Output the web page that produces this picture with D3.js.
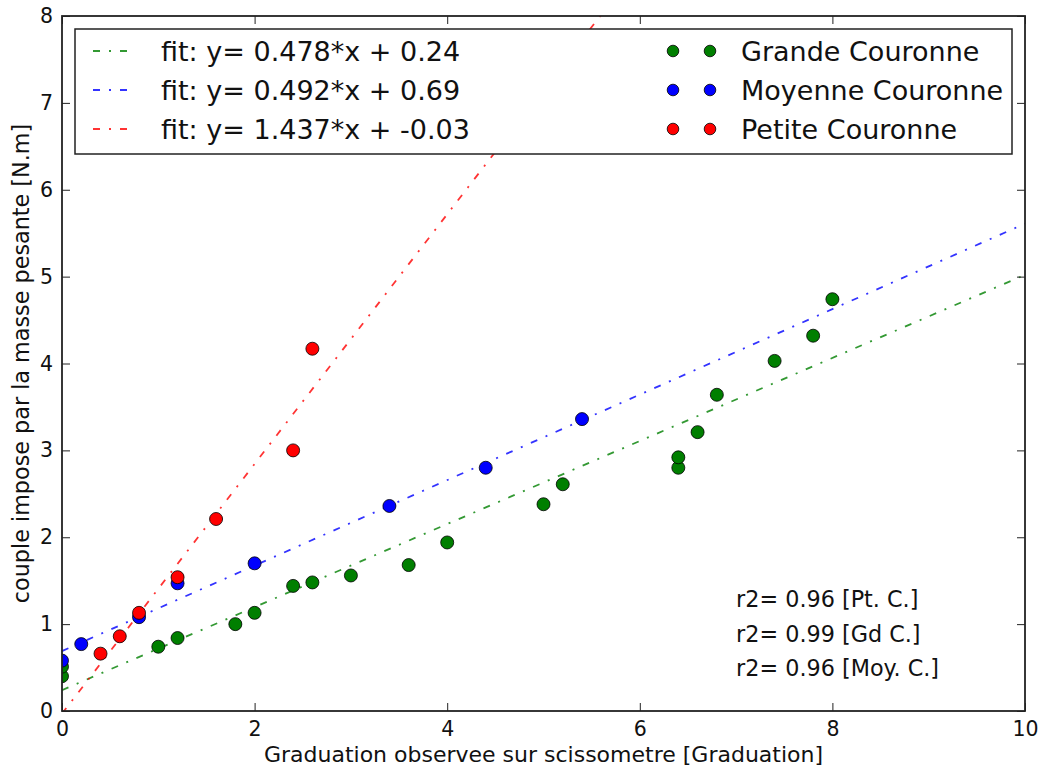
<!DOCTYPE html>
<html>
<head>
<meta charset="utf-8">
<script src="https://cdn.jsdelivr.net/npm/d3@7"></script>
<style>
  html, body { margin: 0; padding: 0; background: #fff; }
  svg { display: block; font-family: "DejaVu Sans", sans-serif; }
</style>
</head>
<body>
<svg id="chart" width="1040" height="767"></svg>
<script>
// ---- data ----
const grandeX = [0, 0, 1.0, 1.2, 1.8, 2.0, 2.4, 2.6, 3.0, 3.6, 4.0, 5.0, 5.2, 6.4, 6.4, 6.6, 6.8, 7.4, 7.8, 8.0];
const grandeY = [0.40, 0.51, 0.74, 0.84, 1.00, 1.13, 1.44, 1.48, 1.56, 1.68, 1.94, 2.38, 2.61, 2.80, 2.92, 3.21, 3.64, 4.03, 4.32, 4.74];
const moyenneX = [0, 0.2, 0.8, 1.2, 2.0, 3.4, 4.4, 5.4];
const moyenneY = [0.58, 0.77, 1.08, 1.47, 1.70, 2.36, 2.80, 3.36];
const petiteX = [0.4, 0.6, 0.8, 1.2, 1.6, 2.4, 2.6];
const petiteY = [0.66, 0.86, 1.13, 1.54, 2.21, 3.00, 4.17];

const fitSlopes = [0.478, 0.492, 1.437];
const fitIntercepts = [0.24, 0.69, -0.03];
const fitLabels = ["fit: y= 0.478*x + 0.24", "fit: y= 0.492*x + 0.69", "fit: y= 1.437*x + -0.03"];
const seriesLabels = ["Grande Couronne", "Moyenne Couronne", "Petite Couronne"];
const r2Labels = ["r2= 0.96 [Pt. C.]", "r2= 0.99 [Gd C.]", "r2= 0.96 [Moy. C.]"];
const r2Y = [1.2, 0.8, 0.4];
const r2X = 7.0;

const xTicks = [0, 2, 4, 6, 8, 10];
const yTicks = [0, 1, 2, 3, 4, 5, 6, 7, 8];
const xLabel = "Graduation observee sur scissometre [Graduation]";
const yLabel = "couple impose par la masse pesante [N.m]";

// ---- setup ----
const colors = ["#007f00", "#0000ff", "#ff0000"];
const svg = d3.select("#chart");
const L = 62, R = 1025, T = 16, B = 711;
const x = d3.scaleLinear().domain([0, 10]).range([L, R]);
const y = d3.scaleLinear().domain([0, 8]).range([B, T]);

svg.append("defs").append("clipPath").attr("id", "clip")
  .append("rect").attr("x", L).attr("y", T).attr("width", R - L).attr("height", B - T);

const plot = svg.append("g").attr("clip-path", "url(#clip)");

// fit lines
const dash = "7,9,2,9";
fitSlopes.forEach((m, i) => {
  const b = fitIntercepts[i];
  plot.append("line")
    .attr("x1", x(0)).attr("y1", y(b))
    .attr("x2", x(10)).attr("y2", y(m * 10 + b))
    .attr("stroke", colors[i]).attr("stroke-opacity", 0.8)
    .attr("stroke-width", 1.8).attr("stroke-dasharray", dash);
});

// points
const series = [[grandeX, grandeY], [moyenneX, moyenneY], [petiteX, petiteY]];
series.forEach(([xs, ys], i) => {
  plot.append("g").selectAll("circle")
    .data(xs.map((v, k) => [v, ys[k]]))
    .join("circle")
    .attr("cx", d => x(d[0])).attr("cy", d => y(d[1]))
    .attr("r", 6.5)
    .attr("fill", colors[i]).attr("stroke", "#000").attr("stroke-width", 0.8);
});

// axes frame
const tickLen = 8;
const axBottom = svg.append("g").attr("transform", `translate(0,${B})`)
  .call(d3.axisBottom(x).tickValues(xTicks).tickSize(-tickLen).tickPadding(10).tickFormat(d3.format("d")));
const axTop = svg.append("g").attr("transform", `translate(0,${T})`)
  .call(d3.axisTop(x).tickValues(xTicks).tickSize(-tickLen).tickFormat(""));
const axLeft = svg.append("g").attr("transform", `translate(${L},0)`)
  .call(d3.axisLeft(y).tickValues(yTicks).tickSize(-tickLen).tickPadding(9).tickFormat(d3.format("d")));
const axRight = svg.append("g").attr("transform", `translate(${R},0)`)
  .call(d3.axisRight(y).tickValues(yTicks).tickSize(-tickLen).tickFormat(""));
[axBottom, axTop, axLeft, axRight].forEach(a => {
  a.select(".domain").remove();
  a.selectAll("line").attr("stroke", "#222").attr("stroke-width", 1);
  a.selectAll("text").attr("font-size", 20.5).attr("fill", "#111").attr("font-family", "DejaVu Sans");
});
svg.append("rect").attr("x", L).attr("y", T).attr("width", R - L).attr("height", B - T)
  .attr("fill", "none").attr("stroke", "#222").attr("stroke-width", 1.8);

// axis labels
svg.append("text").attr("x", (L + R) / 2).attr("y", 762).attr("text-anchor", "middle")
  .attr("font-size", 22).attr("fill", "#111").text(xLabel);
svg.append("text").attr("transform", `translate(28.5,${(T + B) / 2}) rotate(-90)`).attr("text-anchor", "middle")
  .attr("font-size", 22.3).attr("fill", "#111").text(yLabel);

// r2 annotations
r2Labels.forEach((t, i) => {
  svg.append("text").attr("x", x(r2X)).attr("y", y(r2Y[i])).attr("font-size", 22.3).attr("fill", "#111").text(t);
});

// legend
const lg = svg.append("g");
lg.append("rect").attr("x", 75).attr("y", 29).attr("width", 937).attr("height", 125)
  .attr("fill", "#fff").attr("stroke", "#222").attr("stroke-width", 1.5);
const rowY = [51, 90, 129];
fitLabels.forEach((t, i) => {
  lg.append("line").attr("x1", 93).attr("x2", 127).attr("y1", rowY[i]).attr("y2", rowY[i])
    .attr("stroke", colors[i]).attr("stroke-opacity", 0.8).attr("stroke-width", 1.8).attr("stroke-dasharray", dash);
  lg.append("text").attr("x", 161).attr("y", rowY[i] + 9.5).attr("font-size", 27).attr("fill", "#111").text(t);
});
seriesLabels.forEach((t, i) => {
  [673, 710].forEach(cx => {
    lg.append("circle").attr("cx", cx).attr("cy", rowY[i]).attr("r", 5.8)
      .attr("fill", colors[i]).attr("stroke", "#000").attr("stroke-width", 0.8);
  });
  lg.append("text").attr("x", 741).attr("y", rowY[i] + 9.5).attr("font-size", 27).attr("fill", "#111").text(t);
});
</script>
</body>
</html>
